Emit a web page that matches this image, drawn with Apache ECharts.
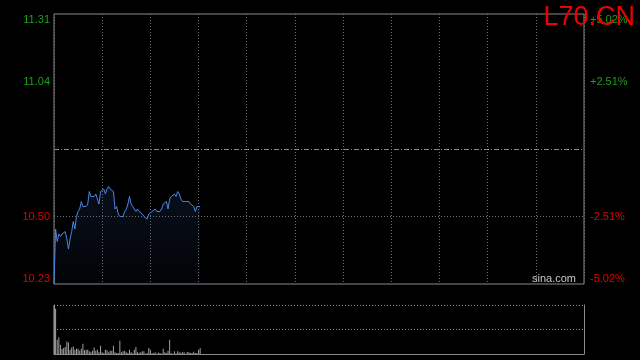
<!DOCTYPE html>
<html>
<head>
<meta charset="utf-8">
<script src="https://cdn.jsdelivr.net/npm/echarts@6/dist/echarts.min.js"></script>
<style>
html,body{margin:0;padding:0;background:#000;}
#c{width:640px;height:360px;}
</style>
</head>
<body>
<div id="c"></div>
<script>
// ---- data ----
var title = 'L70.CN';
var watermark = 'sina.com';
var yTicks = [10.23, 10.50, 10.77, 11.04, 11.31];
var leftLabels = ['10.23', '10.50', '', '11.04', '11.31'];
var rightLabels = ['-5.02%', '-2.51%', '', '+2.51%', '+5.02%'];
var prevClose = 10.77;
var sessionMinutes = 330;
var minuteStep = 30;
var prices = [
  10.23, 10.45, 10.40, 10.43, 10.42, 10.43, 10.43, 10.44, 10.41, 10.37,
  10.41, 10.44, 10.48, 10.45, 10.50, 10.52, 10.53, 10.56, 10.54, 10.54,
  10.54, 10.55, 10.60, 10.58, 10.58, 10.58, 10.59, 10.57, 10.55, 10.60,
  10.60, 10.61, 10.59, 10.61, 10.62, 10.61, 10.61, 10.60, 10.53, 10.54,
  10.51, 10.50, 10.50, 10.50, 10.52, 10.53, 10.55, 10.58, 10.55, 10.54,
  10.53, 10.52, 10.53, 10.52, 10.52, 10.51, 10.50, 10.50, 10.49, 10.51,
  10.51, 10.52, 10.52, 10.53, 10.52, 10.52, 10.52, 10.53, 10.55, 10.55,
  10.56, 10.53, 10.57, 10.58, 10.58, 10.59, 10.58, 10.60, 10.59, 10.57,
  10.56, 10.56, 10.56, 10.56, 10.56, 10.55, 10.55, 10.54, 10.52, 10.54,
  10.54, 10.54
];
var volumes = [
  100, 92.6, 28.9, 34.2, 18.8, 10.1, 12.1, 14.1, 25.5, 23.5,
  8.7, 13.4, 15.4, 8.7, 10.7, 10.7, 6.7, 10.7, 20.8, 7.4,
  8.7, 8.7, 5.4, 3.4, 6.7, 13.4, 6.7, 8.7, 3.4, 16.8,
  3.4, 2.0, 8.7, 7.4, 3.4, 6.7, 6.7, 16.8, 3.4, 2.0,
  2.0, 26.8, 3.4, 5.4, 6.7, 3.4, 2.0, 8.7, 3.4, 1.5,
  8.7, 14.1, 3.4, 2.7, 3.4, 5.4, 5.4, 0.7, 2.0, 12.1,
  8.7, 1.4, 2.0, 3.4, 0.7, 3.0, 2.0, 0.7, 10.7, 3.4,
  2.0, 6.7, 28.9, 2.0, 0.7, 5.4, 1.2, 5.4, 3.4, 2.5,
  3.4, 3.4, 0.7, 4.0, 3.4, 2.0, 1.8, 4.7, 2.0, 2.0,
  8.7, 12.1
];
var volumeMax = 100;

// ---- build ----
var priceData = prices.map(function (p, i) { return [i, p]; });
var volData = volumes.map(function (v, i) { return [i, v + 0]; });
var UP = '#1aa01a', DOWN = '#e00000';
var FONT = 'Liberation Sans, Arial, sans-serif';
var rich = {
  t: {color: UP, fontSize: 11, fontFamily: FONT, padding: [11, 0, 0, 0]},
  u: {color: UP, fontSize: 11, fontFamily: FONT},
  d: {color: DOWN, fontSize: 11, fontFamily: FONT},
  b: {color: DOWN, fontSize: 11, fontFamily: FONT, padding: [0, 0, 11, 0]}
};
function fmt(labels) {
  return function (v, i) {
    var s = labels[i];
    if (!s) return '';
    var key = i === 0 ? 'b' : (i === labels.length - 1 ? 't' : (i >= 2 ? 'u' : 'd'));
    return '{' + key + '|' + s + '}';
  };
}

var chart = echarts.init(document.getElementById('c'), null, {renderer: 'canvas'});
chart.setOption({
  backgroundColor: '#000',
  animation: false,
  grid: [
    {left: 54, right: 56, top: 14, height: 270, show: true, borderColor: '#8a8a8a', borderWidth: 1, backgroundColor: 'transparent'},
    {left: 54, right: 56, top: 305, height: 49}
  ],
  xAxis: [
    {type: 'value', gridIndex: 0, min: 0, max: sessionMinutes, interval: minuteStep,
     axisLine: {show: false}, axisTick: {show: false}, axisLabel: {show: false},
     splitLine: {show: true, lineStyle: {color: '#707070', type: [1, 2], width: 1}}},
    {type: 'value', gridIndex: 1, min: 0, max: sessionMinutes, interval: minuteStep,
     axisLine: {show: true, onZero: false, lineStyle: {color: '#8a8a8a'}}, axisTick: {show: false}, axisLabel: {show: false},
     splitLine: {show: false}}
  ],
  yAxis: [
    {type: 'value', gridIndex: 0, position: 'left', min: yTicks[0], max: yTicks[yTicks.length - 1], interval: yTicks[1] - yTicks[0],
     axisLine: {show: false}, axisTick: {show: false}, splitLine: {show: false},
     axisLabel: {show: true, margin: 4, rich: rich, formatter: fmt(leftLabels)}},
    {type: 'value', gridIndex: 0, position: 'right', min: yTicks[0], max: yTicks[yTicks.length - 1], interval: yTicks[1] - yTicks[0],
     axisLine: {show: false}, axisTick: {show: false}, splitLine: {show: false},
     axisLabel: {show: true, margin: 6, rich: rich, formatter: fmt(rightLabels)}},
    {type: 'value', gridIndex: 1, position: 'left', min: 0, max: volumeMax, interval: volumeMax / 2,
     axisLine: {show: true, lineStyle: {color: '#8a8a8a'}}, axisTick: {show: false}, axisLabel: {show: false},
     splitLine: {show: true, lineStyle: {color: '#8a8a8a', type: [1, 2]}}},
    {type: 'value', gridIndex: 1, position: 'right', min: 0, max: volumeMax, interval: volumeMax / 2,
     axisLine: {show: true, lineStyle: {color: '#8a8a8a'}}, axisTick: {show: false}, axisLabel: {show: false},
     splitLine: {show: false}}
  ],
  series: [
    {type: 'line', xAxisIndex: 0, yAxisIndex: 0, data: priceData, showSymbol: false, symbol: 'none',
     lineStyle: {color: '#4a86e0', width: 1},
     areaStyle: {origin: 'start', color: new echarts.graphic.LinearGradient(0, 0, 0, 1, [
       {offset: 0, color: 'rgba(40,70,130,0.30)'}, {offset: 1, color: 'rgba(40,70,130,0.07)'}])},
     markLine: {silent: true, symbol: 'none', label: {show: false},
       data: [
         {yAxis: prevClose, lineStyle: {color: '#8a8a8a', type: [5, 2, 1, 2], width: 1}},
         {yAxis: yTicks[1], lineStyle: {color: '#707070', type: [1, 2], width: 1}}
       ]},
     z: 3},
    {type: 'bar', xAxisIndex: 1, yAxisIndex: 2, data: volData, barWidth: 1,
     itemStyle: {color: '#a0a0a0'}}
  ],
  graphic: [
    {type: 'text', right: 5, top: 4, z: 100,
     style: {text: title, fill: '#ee0000', font: '27px "Liberation Sans", Arial, sans-serif'}},
    {type: 'text', left: 532, top: 273, z: 50,
     style: {text: watermark, fill: '#c8c8c8', font: '11px "Liberation Sans", Arial, sans-serif'}}
  ]
});
</script>
</body>
</html>
